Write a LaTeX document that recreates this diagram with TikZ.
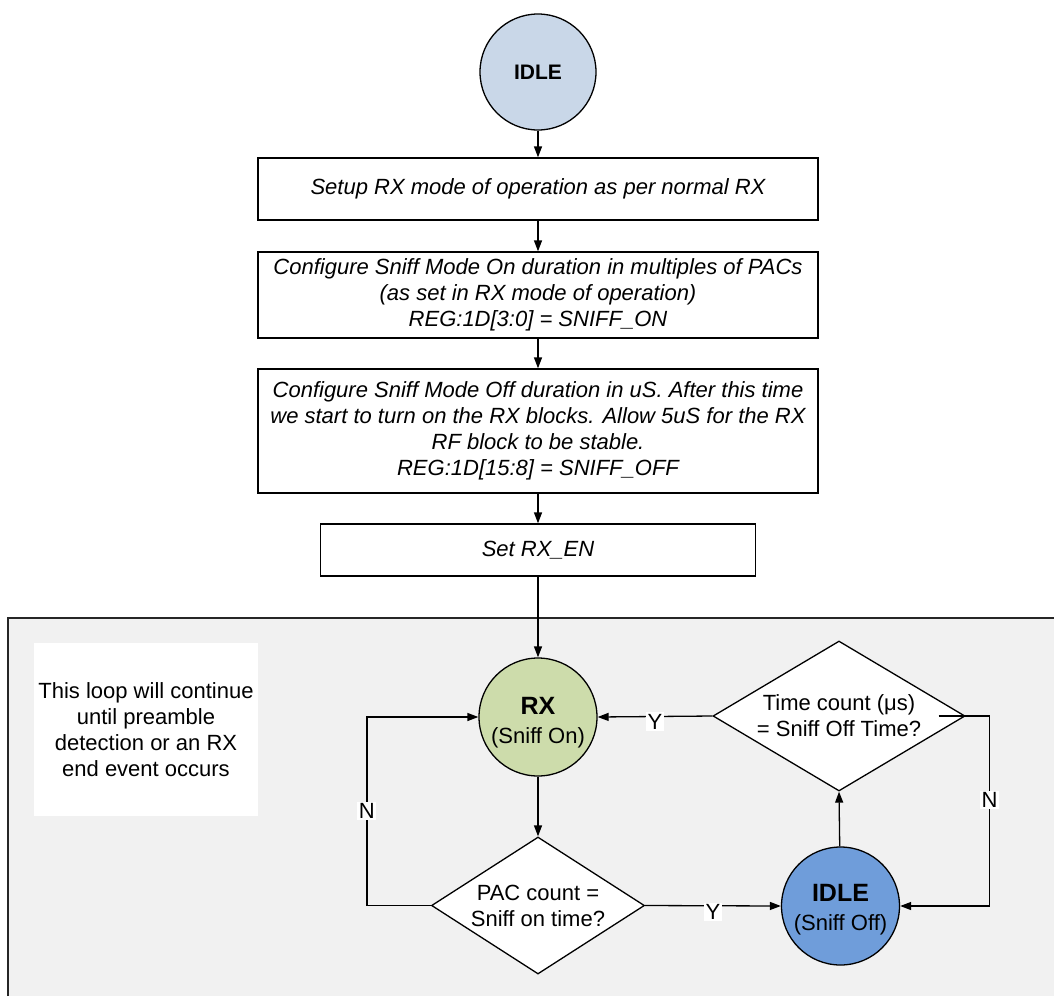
\documentclass[tikz,border=0pt]{standalone}
\usepackage{fontspec}
\setmainfont{Liberation Sans}
\usetikzlibrary{shapes.geometric,arrows.meta}

\definecolor{idlecol}{HTML}{C9D7E8}
\definecolor{rxcol}{HTML}{CDDCAB}
\definecolor{offcol}{HTML}{6F9DDA}
\definecolor{loopbg}{HTML}{F1F1F1}
\definecolor{loopedge}{HTML}{262626}

\tikzset{
  stepbox/.style={draw, fill=white, minimum width=560, minimum height=#1,
    inner sep=0, align=center, font=\fontsize{22}{26}\selectfont\itshape},
  state/.style={circle, draw, minimum size=118, inner sep=0, align=center,
    font=\fontsize{22}{29}\selectfont},
  decision/.style={diamond, draw, fill=white, inner sep=0, align=center,
    font=\fontsize{22}{26}\selectfont},
  lbl/.style={fill=white, inner sep=1.5, font=\fontsize{22}{26}\selectfont},
  arr/.style={-{Triangle[length=11pt,width=8pt]}},
}

\begin{document}
\begin{tikzpicture}[x=1pt, y=-1pt, line width=1.3pt]
  \useasboundingbox (0,0) rectangle (1054,996);

  % loop area
  \fill[loopbg] (8,618) rectangle (1054,996);
  \draw[loopedge, line width=2pt] (8,996) -- (8,618) -- (1054,618);

  % set-up sequence
  \node[state, fill=idlecol, minimum size=116, font=\fontsize{21}{25}\selectfont\bfseries]
    (idle) at (538,72) {IDLE};
  \node[stepbox=62] (setup) at (538,189) {Setup RX mode of operation as per normal RX};
  \node[stepbox=86] (sniffon) at (538,295)
    {Configure Sniff Mode On duration in multiples of PACs\\
     (as set in RX mode of operation)\\
     REG:1D[3:0] = SNIFF\_ON};
  \node[stepbox=124] (sniffoff) at (538,431)
    {Configure Sniff Mode Off duration in uS. After this time\\
     we start to turn on the RX blocks. Allow 5uS for the RX\\
     RF block to be stable.\\
     REG:1D[15:8] = SNIFF\_OFF};
  \node[stepbox=52, minimum width=435] (rxen) at (538,550) {Set RX\_EN};

  % note
  \node[fill=white, minimum width=224, minimum height=173, inner sep=0, align=center,
    font=\fontsize{22}{26}\selectfont] (note) at (146,729.5)
    {This loop will continue\\until preamble\\detection or an RX\\end event occurs};

  % sniff loop (struts on the first line push the two-line labels a little lower)
  \node[state, fill=rxcol] (rx) at (538,717)
    {\rule{0pt}{28pt}{\fontsize{25}{29}\selectfont\bfseries RX}\\(Sniff On)};
  \node[decision, minimum width=213, minimum height=137, shape aspect=1.55]
    (pac) at (538,905.5) {PAC count =\\Sniff on time?};
  \node[state, fill=offcol] (idleoff) at (840.5,906)
    {\rule{0pt}{25pt}{\fontsize{25}{29}\selectfont\bfseries IDLE}\\(Sniff Off)};
  \node[decision, minimum width=252, minimum height=150, shape aspect=1.68]
    (tcount) at (839,716) {Time count (μs)\\= Sniff Off Time?};

  % connectors
  \draw[arr] (idle) -- (setup);
  \draw[arr] (setup) -- (sniffon);
  \draw[arr] (sniffon) -- (sniffoff);
  \draw[arr] (sniffoff) -- (rxen);
  \draw[arr] (rxen) -- (rx);
  \draw[arr] (rx) -- (pac);
  \draw[arr] (pac.east) -- node[lbl, yshift=-6]{Y} (idleoff.west);
  \draw[arr] (idleoff) -- (tcount.south);
  \draw[arr] (tcount.west) -- node[lbl, yshift=-5]{Y} (rx.east);
  \draw[arr] (pac.west) -- ++(-64,0) |- node[lbl, pos=0.25]{N} (rx.west);
  \draw[arr] ([xshift=-27]tcount.east) -- ([xshift=24]tcount.east)
    |- node[lbl, pos=0.22]{N} (idleoff.east);
\end{tikzpicture}
\end{document}
